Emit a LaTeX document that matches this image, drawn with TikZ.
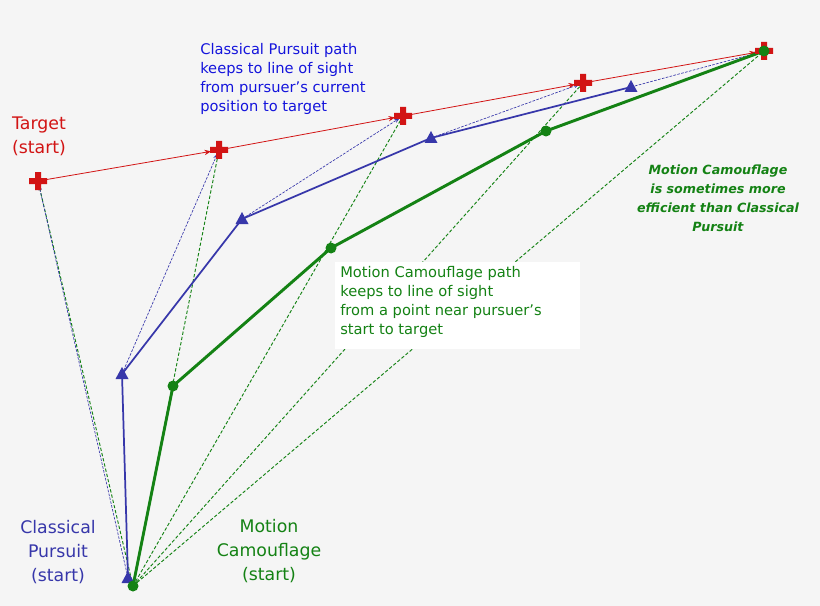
\documentclass[tikz,border=0pt]{standalone}
\usepackage{fontspec}
\setmainfont{DejaVu Sans}
\usetikzlibrary{arrows.meta,calc}
\definecolor{tred}{RGB}{210,20,20}
\definecolor{cblue}{RGB}{55,55,170}
\definecolor{tblue}{RGB}{20,20,220}
\definecolor{mgreen}{RGB}{20,130,20}
\begin{document}
\begin{tikzpicture}[x=0.75pt,y=-0.75pt,
  redline/.style={tred,line width=0.6pt,-{Stealth[length=5pt,width=4pt]},shorten >=6pt},
  bpath/.style={cblue,line width=1.3pt},
  mpath/.style={mgreen,line width=2.2pt},
  bdash/.style={cblue,line width=0.5pt,dash pattern=on 2pt off 1pt,-{Stealth[length=4pt,width=3pt]},shorten >=3pt},
  gdash/.style={mgreen,line width=0.7pt,dash pattern=on 2.5pt off 1.5pt},
  lab/.style={align=center,font=\fontsize{13}{18}\selectfont},
  small/.style={align=left,font=\fontsize{11}{14.3}\selectfont,inner sep=0}]
\fill[white!96!black] (0,0) rectangle (820,606);
\useasboundingbox (0,0) rectangle (820,606);
\foreach \n/\x/\y in {t1/38/181,t2/219/150,t3/403/116,t4/583/83,t5/764/51} \coordinate (\n) at (\x,\y);
\foreach \n/\x/\y in {b0/128/578,b1/122/374,b2/242/219,b3/431/138,b4/631/87} \coordinate (\n) at (\x,\y);
\foreach \n/\x/\y in {m0/133/586,m1/173/386,m2/331/248,m3/546/131} \coordinate (\n) at (\x,\y);
\foreach \t in {t1,t2,t3,t4,t5} \draw[gdash] (m0) -- (\t);
\draw[bdash] (b0) -- (t1);
\draw[bdash] (b1) -- (t2);
\draw[bdash] (b2) -- (t3);
\draw[bdash] (b3) -- (t4);
\draw[bdash] (b4) -- (t5);
\draw[redline] (t1) -- (t2);
\draw[redline] (t2) -- (t3);
\draw[redline] (t3) -- (t4);
\draw[redline] (t4) -- (t5);
\draw[bpath] (b0) -- (b1) -- (b2) -- (b3) -- (b4);
\draw[mpath] (m0) -- (m1) -- (m2) -- (m3) -- (t5);
\foreach \t in {t1,t2,t3,t4,t5}
  \fill[tred] ($(\t)+(-9,-3)$) rectangle ($(\t)+(9,3)$) ($(\t)+(-3,-9)$) rectangle ($(\t)+(3,9)$);
\foreach \b in {b0,b1,b2,b3,b4}
  \fill[cblue] ($(\b)+(0,-7)$) -- ($(\b)+(6.5,5)$) -- ($(\b)+(-6.5,5)$) -- cycle;
\foreach \m in {m0,m1,m2,m3,t5} \fill[mgreen] (\m) circle[radius=5.5];
\node[lab,text=tred] (lt) at (39,136) {Target\\(start)};
\node[lab,text=cblue] (lc) at (58,552) {Classical\\Pursuit\\(start)};
\node[lab,text=mgreen] (lm) at (269,551) {Motion\\Camouflage\\(start)};
\node[small,text=tblue,anchor=north west] (cp) at (200,43) {Classical Pursuit path\\keeps to line of sight\\from pursuer's current\\position to target};
\fill[white] (335,262) rectangle (580,349);
\node[small,text=mgreen,anchor=north west] (mc) at (340,266) {Motion Camouflage path\\keeps to line of sight\\from a point near pursuer's\\start to target};
\node[align=center,text=mgreen,font=\fontsize{9.5}{14.3}\selectfont\bfseries\itshape] (eff) at (718,198) {Motion Camouflage\\is sometimes more\\efficient than Classical\\Pursuit};
\end{tikzpicture}
\end{document}
